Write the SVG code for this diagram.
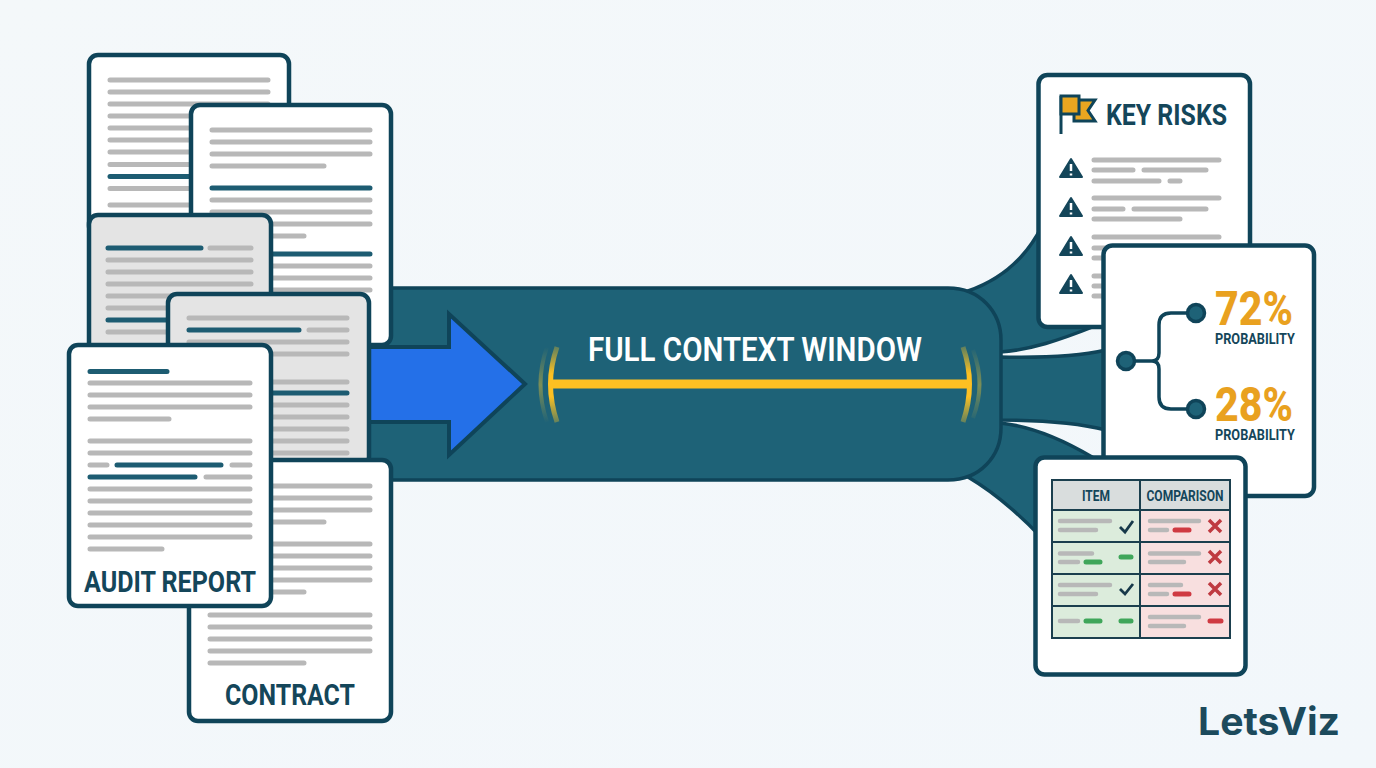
<svg xmlns="http://www.w3.org/2000/svg" width="1376" height="768" viewBox="0 0 1376 768">
<style>
.doc{fill:#fff;stroke:#0f4459;stroke-width:4.5}
.gdoc{fill:#e4e4e4;stroke:#0f4459;stroke-width:4.5}
.l{fill:none;stroke:#b8b8b8;stroke-width:5;stroke-linecap:round}
.t{fill:none;stroke:#1d5c72;stroke-width:5;stroke-linecap:round}
.flow{fill:#1e6277;stroke:#0f4459;stroke-width:3.5}
text{font-family:Roboto,"Liberation Sans",sans-serif;font-weight:700;fill:#14465a}
.cell{stroke:#1b3f4e;stroke-width:2}
.gr{fill:none;stroke:#3fa65a;stroke-width:5;stroke-linecap:round}
.rd{fill:none;stroke:#cf3a42;stroke-width:5;stroke-linecap:round}
.x{fill:none;stroke:#bf3a40;stroke-width:3.5}
.ck{fill:none;stroke:#17394a;stroke-width:2.8}
.nd{fill:#1e6277;stroke:#0f4459;stroke-width:3.5}
.warn{fill:#14465a;stroke:#14465a;stroke-width:2;stroke-linejoin:round}
</style>
<defs>
<linearGradient id="bg" x1="0" y1="0" x2="1" y2="1"><stop offset="0" stop-color="#f4f8fa"/><stop offset="1" stop-color="#f2f7fb"/></linearGradient>
<linearGradient id="arc" gradientUnits="userSpaceOnUse" x1="0" y1="347" x2="0" y2="423"><stop offset="0" stop-color="#e2bb2c" stop-opacity=".35"/><stop offset=".35" stop-color="#fdc022"/><stop offset=".65" stop-color="#fdc022"/><stop offset="1" stop-color="#e2bb2c" stop-opacity=".35"/></linearGradient>
<linearGradient id="arcf" gradientUnits="userSpaceOnUse" x1="0" y1="347" x2="0" y2="423"><stop offset="0" stop-color="#c9b23c" stop-opacity="0"/><stop offset=".5" stop-color="#c9b23c" stop-opacity=".55"/><stop offset="1" stop-color="#c9b23c" stop-opacity="0"/></linearGradient>
</defs>
<rect width="1376" height="768" fill="url(#bg)"/>

<g id="doc-1">
<rect class="doc" x="89" y="55" width="200" height="180" rx="9"/>
<path class="l" d="M110 80H268M110 92H268M110 104H268M110 116H268M110 128H268M110 140H268M110 152H268M110 164.500H268M110 188.500H268M110 205H268"/>
<path class="t" d="M110 176.500H268"/>
</g>

<g id="connectors">
<path class="flow" d="M968 291C1000 280 1025 260 1042 226L1095 326C1060 340 1030 350 1000 352Z"/>
<path class="flow" d="M1000 357C1040 358 1075 357 1106 350V430C1075 422 1040 420 1000 420Z"/>
<path class="flow" d="M1000 423C1030 426 1060 438 1092 457L1040 536C1015 510 990 490 968 477Z"/>
<path id="window" class="flow" d="M360 288H948C980 288 1001 312 1001 340V428C1001 456 980 480 948 480H360Z"/>
</g>

<g id="doc-2">
<rect class="doc" x="191" y="105" width="200" height="240" rx="9"/>
<path class="l" d="M212 130H370M212 142H370M212 154H370M212 166H324M212 200H370M212 212H370M212 224H370M212 236H304M212 266H370M212 278H370M212 290H370"/>
<path class="t" d="M212 188H370M212 254H370"/>
</g>

<g id="doc-3">
<rect class="gdoc" x="89" y="215" width="182" height="150" rx="9"/>
<path class="l" d="M210 248H251M108 260H251M108 272H251M108 284H251M108 296H251M108 308H251M108 332H251"/>
<path class="t" d="M108 248H201M108 320H251"/>
</g>

<g id="arrow">
<path d="M360 347H449V314L525 384L449 455V422H360Z" fill="#2470e8" stroke="#0f4459" stroke-width="4"/>
</g>

<g id="doc-4">
<rect class="gdoc" x="168" y="294" width="201" height="172" rx="9"/>
<path class="l" d="M189 318H347M309 330H347M189 342H347M189 354H347M189 382H347M189 405H347M189 417H347M189 429H347M189 441H347M189 453H347"/>
<path class="t" d="M189 330H299M189 393H347"/>
</g>

<g id="contract">
<rect class="doc" x="189" y="460" width="202" height="261" rx="9"/>
<path class="l" d="M210 486H370M210 498H370M210 510H370M210 522H324M210 544H370M210 556H370M210 568H370M210 580H370M210 592H304M210 615H370M210 627H370M210 639H370M210 651H370M210 663H304"/>
<text x="290" y="705" font-size="30" text-anchor="middle" textLength="130" lengthAdjust="spacingAndGlyphs">CONTRACT</text>
</g>

<g id="audit-report">
<rect class="doc" x="69" y="345" width="202" height="261" rx="9"/>
<path class="l" d="M90 383H250M90 395H250M90 407H250M90 419H169M90 441H250M90 453H250M90 465H107M232 465H250M206 477H250M90 489H250M90 501H250M90 513H250M90 525H250M90 537H250M90 549H162"/>
<path class="t" d="M90 371.500H167M117 465H221M90 477H195"/>
<text x="170" y="592" font-size="30" text-anchor="middle" textLength="172" lengthAdjust="spacingAndGlyphs">AUDIT REPORT</text>
</g>

<g id="window-label">
<text x="755" y="361" font-size="34" text-anchor="middle" textLength="334" lengthAdjust="spacingAndGlyphs" style="fill:#fff;font-weight:600">FULL CONTEXT WINDOW</text>
<path d="M552 384H968" stroke="#fdc022" stroke-width="9" fill="none"/>
<path d="M557 347Q544 384 557 422" stroke="url(#arc)" stroke-width="5" fill="none"/>
<path d="M547 347Q534 384 547 422" stroke="url(#arcf)" stroke-width="4" fill="none"/>
<path d="M963 347Q976 384 963 422" stroke="url(#arc)" stroke-width="5" fill="none"/>
<path d="M973 350Q986 384 973 418" stroke="url(#arcf)" stroke-width="4" fill="none"/>
</g>

<g id="key-risks">
<rect class="doc" x="1038.500" y="75" width="211.500" height="252" rx="9"/>
<path d="M1061 96V134" stroke="#0f4459" stroke-width="3" fill="none"/>
<path d="M1074 100H1095L1088 110.500L1095 121H1074Z" fill="#e9a620" stroke="#0f4459" stroke-width="3"/>
<rect x="1061" y="96" width="18" height="18" fill="#e9a620" stroke="#0f4459" stroke-width="3"/>
<text x="1106" y="125" font-size="29" textLength="121" lengthAdjust="spacingAndGlyphs">KEY RISKS</text>
<g id="warnings">
<path class="warn" d="M1071 159L1060 177H1082Z"/><path d="M1071 164V171M1071 173.500V175.500" stroke="#fff" stroke-width="2.500"/>
<path class="warn" d="M1071 198L1060 216H1082Z"/><path d="M1071 203V210M1071 212.500V214.500" stroke="#fff" stroke-width="2.500"/>
<path class="warn" d="M1071 237L1060 255H1082Z"/><path d="M1071 242V249M1071 251.500V253.500" stroke="#fff" stroke-width="2.500"/>
<path class="warn" d="M1071 275L1060 293H1082Z"/><path d="M1071 280V287M1071 289.500V291.500" stroke="#fff" stroke-width="2.500"/>
</g>
<path class="l" d="M1094 160H1219M1094 170H1133M1144 170H1206M1094 181H1159M1170 181H1180M1094 198H1219M1094 209H1123M1134 209H1206M1094 219H1180M1094 237H1219M1094 248H1219M1094 258H1219M1094 276H1219M1094 286H1219M1094 296H1219"/>
</g>

<g id="probability">
<rect class="doc" x="1103.500" y="245.500" width="210.500" height="250.500" rx="9"/>
<path d="M1126 361H1152Q1159 361 1159 353V325Q1159 313 1171 313H1196M1152 361Q1159 361 1159 369V397Q1159 409 1171 409H1196" fill="none" stroke="#0f4459" stroke-width="3.500"/>
<circle class="nd" cx="1126" cy="361" r="8.500"/>
<circle class="nd" cx="1196" cy="313" r="8.500"/>
<circle class="nd" cx="1196" cy="409" r="8.500"/>
<text style="fill:#e9a11f;font-weight:800" x="1215" y="325" font-size="48" textLength="78" lengthAdjust="spacingAndGlyphs">72%</text>
<text x="1215" y="344" font-size="15.500" textLength="80" lengthAdjust="spacingAndGlyphs">PROBABILITY</text>
<text style="fill:#e9a11f;font-weight:800" x="1215" y="421" font-size="48" textLength="78" lengthAdjust="spacingAndGlyphs">28%</text>
<text x="1215" y="440" font-size="15.500" textLength="80" lengthAdjust="spacingAndGlyphs">PROBABILITY</text>
</g>

<g id="comparison">
<rect class="doc" x="1035.500" y="457.500" width="210" height="217" rx="9"/>
<rect class="cell" x="1052" y="480" width="178" height="30" fill="#d9dddd"/>
<rect class="cell" x="1052" y="510" width="88" height="128" fill="#dcecdc"/>
<rect class="cell" x="1140" y="510" width="90" height="128" fill="#f8dfdf"/>
<path class="cell" fill="none" d="M1140 480V510M1052 542H1230M1052 574H1230M1052 606H1230"/>
<text x="1096" y="501" font-size="15" text-anchor="middle" textLength="28" lengthAdjust="spacingAndGlyphs">ITEM</text>
<text x="1185" y="501" font-size="15" text-anchor="middle" textLength="77" lengthAdjust="spacingAndGlyphs">COMPARISON</text>
<path class="l" style="stroke-width:4.500" d="M1060 521H1110M1060 530H1096M1150 521H1199M1150 530H1167M1060 553.500H1092M1060 562H1078M1150 553.500H1199M1150 562H1184M1060 585H1110M1060 594H1096M1150 585H1181M1150 594H1167M1060 621H1078M1150 617H1199M1150 626H1184"/>
<path class="gr" d="M1086 562H1100M1121 557H1131M1086 621H1100M1121 621H1131"/>
<path class="rd" d="M1175 530H1189M1175 594H1189M1210 621H1221"/>
<path class="ck" d="M1120 527L1125 532L1133 521M1120 589L1125 594L1133 584"/>
<path class="x" d="M1209 520L1221 532M1221 520L1209 532M1209 551L1221 563M1221 551L1209 563M1209 583L1221 595M1221 583L1209 595"/>
</g>

<g id="logo">
<text x="1198" y="735" font-size="38" textLength="142" lengthAdjust="spacingAndGlyphs" style="font-family:Inter,Roboto,sans-serif;font-weight:700;fill:#1c4a5c">LetsViz</text>
</g>
</svg>
